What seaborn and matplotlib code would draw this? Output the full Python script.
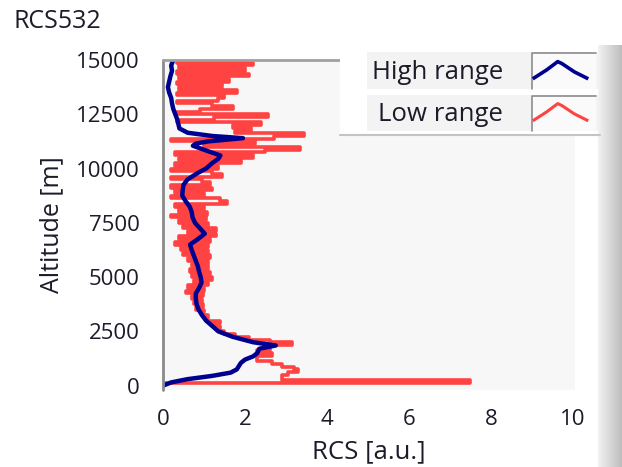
import numpy as np
import pandas as pd
import seaborn as sns
import matplotlib
matplotlib.use('Agg')
import matplotlib.pyplot as plt
from matplotlib.lines import Line2D
from matplotlib.patches import Rectangle
from matplotlib.path import Path
from matplotlib.colors import LinearSegmentedColormap

# low range channel, one value every 125 m from 0 to 15000 m (8 values per km)
low_rcs = [
    0.0, 7.5, 2.9, 2.9, 3.05, 3.3, 3.2, 2.9,
    2.65, 2.3, 2.3, 2.65, 2.3, 2.6, 2.5, 3.15,
    2.6, 2.1, 1.75, 1.5, 1.4, 1.4, 1.2, 1.4,
    1.05, 1.1, 0.95, 1.0, 0.8, 0.98, 0.75, 0.95,
    0.7, 0.98, 0.55, 1.0, 0.6, 1.1, 0.75, 1.2,
    0.7, 1.15, 0.65, 1.1, 0.7, 1.1, 0.6, 1.15,
    0.5, 1.1, 0.45, 1.1, 0.3, 1.15, 0.4, 1.3,
    0.6, 1.3, 0.5, 1.1, 0.4, 1.05, 0.2, 1.07,
    0.4, 1.0, 0.3, 1.55, 1.4, 0.2, 1.0, 0.3,
    1.2, 0.2, 1.15, 0.95, 0.2, 1.45, 1.2, 0.2,
    1.35, 0.3, 1.9, 0.4, 2.2, 0.3, 2.5, 3.35,
    1.0, 2.25, 0.2, 2.7, 3.45, 1.75, 2.15, 1.7,
    2.4, 0.35, 1.25, 2.55, 0.35, 0.9, 1.7, 1.2,
    0.35, 1.35, 1.5, 0.35, 1.8, 0.4, 1.45, 0.35,
    1.6, 0.4, 2.1, 0.35, 2.0, 0.4, 2.2, 0.35,
    2.05,
]
low_alt = np.arange(0, 15001, 125)

# high range channel
high_alt = [0, 150, 300, 450, 600, 750, 900, 1050, 1200, 1350,
            1500, 1700, 1850, 2000, 2250, 2500, 2750, 3000, 3250, 3500,
            3750, 4000, 4250, 4500, 4750, 5000, 5250, 5500, 5750, 6000,
            6250, 6500, 6750, 7000, 7250, 7500, 7750, 8000, 8250, 8500,
            8750, 9000, 9250, 9500, 9800, 10000, 10250, 10450, 10600, 10800,
            11050, 11150, 11250, 11400, 11500, 11650, 11850, 12250, 12500, 12750,
            13000, 13250, 13500, 13750, 14000, 14250, 14500, 14750, 15000]
high_rcs = [0.0, 0.2, 0.6, 1.2, 1.65, 1.8, 1.85, 1.9, 2.0, 2.2,
            2.3, 2.35, 2.75, 2.2, 1.7, 1.35, 1.2, 1.05, 0.95, 0.87,
            0.82, 0.8, 0.8, 0.88, 0.94, 0.92, 0.88, 0.85, 0.8, 0.75,
            0.7, 0.66, 0.85, 1.02, 0.9, 0.78, 0.72, 0.7, 0.65, 0.55,
            0.47, 0.48, 0.5, 0.6, 0.85, 1.05, 1.2, 1.35, 1.4, 1.1,
            0.73, 0.8, 1.1, 1.95, 1.2, 0.6, 0.4, 0.35, 0.3, 0.25,
            0.22, 0.2, 0.15, 0.12, 0.15, 0.18, 0.22, 0.2, 0.25]

x_ticks = [0, 2, 4, 6, 8, 10]
y_ticks = [0, 2500, 5000, 7500, 10000, 12500, 15000]

blue = '#000090'
red = '#ff4242'
txt = '#1e1a2a'

sns.set_theme(style='white')
plt.rcParams['font.family'] = ['Open Sans', 'DejaVu Sans']
plt.rcParams['text.color'] = txt

W, H = 622, 467
fig = plt.figure(figsize=(W / 100, H / 100), dpi=100)
fig.patch.set_facecolor('white')
ax = fig.add_axes([163 / W, 1 - 390 / H, 412 / W, 330 / H])
ax.set_facecolor('#f7f7f7')

sns.lineplot(x=low_rcs, y=low_alt, orient='y', sort=False, estimator=None,
             color=red, lw=2.6, drawstyle='steps-pre', ax=ax, legend=False)
sns.lineplot(x=high_rcs, y=high_alt, orient='y', sort=False, estimator=None,
             color=blue, lw=3.2, ax=ax, legend=False)

ax.set_xlim(0, 10.05)
ax.set_ylim(-200, 15000)
ax.set_xticks(x_ticks)
ax.set_yticks(y_ticks)

# detached scales like the original front panel
for s in ['right', 'bottom', 'left', 'top']:
    ax.spines[s].set_color('none')
ax.spines['left'].set_position(('outward', 6))
ax.spines['bottom'].set_position(('outward', 3))
ax.axvline(0, color='#8a8a8a', lw=2, clip_on=False, zorder=5)
ax.axhline(15000, color='#a0a0a0', lw=2, clip_on=False, zorder=5)

ax.tick_params(axis='both', direction='out', length=8, width=2, color='#333333',
               labelsize=16, labelcolor=txt, pad=3)
ax.tick_params(axis='x', length=7, pad=4)
ax.set_xlabel('RCS [a.u.]', fontsize=18.5, color=txt, labelpad=6)
ax.set_ylabel('Altitude [m]', fontsize=18, color=txt, labelpad=8)

fig.text(14 / W, 1 - 9 / H, 'RCS532', ha='left', va='top', fontsize=18, color=txt)

# legend panel
def px_rect(x0, y0, x1, y1, **kw):
    return Rectangle((x0 / W, 1 - y1 / H), (x1 - x0) / W, (y1 - y0) / H,
                     transform=fig.transFigure, **kw)

fig.add_artist(px_rect(340, 46, 598, 135, fc='white', ec='none', zorder=3))
for r0, r1 in [(52, 89), (95, 131)]:
    fig.add_artist(px_rect(367, r0, 598, r1, fc='#f3f3f3', ec='none', zorder=3))
    fig.add_artist(px_rect(532, r0 + 1, 596, r1, fc='#fafafa', ec='none', zorder=3))
    fig.add_artist(Line2D([532 / W, 532 / W, 596 / W], [1 - r1 / H, 1 - (r0 + 1) / H, 1 - (r0 + 1) / H],
                          color='#8c8c8c', lw=1.2, transform=fig.transFigure, zorder=4))
fig.add_artist(Line2D([340 / W, 600 / W], [1 - 135 / H] * 2,
                      color='#c4c4c4', lw=1.5, transform=fig.transFigure, zorder=4))

chev = Path([(-1, -0.3), (-0.5, 0.02), (-0.1, 0.32), (0.05, 0.25), (0.5, -0.05), (1, -0.3)])
handles = [
    Line2D([], [], color=blue, marker=chev, markersize=40, markerfacecolor='none',
           markeredgewidth=2.6, linestyle='none'),
    Line2D([], [], color=red, marker=chev, markersize=40, markerfacecolor='none',
           markeredgewidth=2.2, linestyle='none'),
]
leg = fig.legend(handles, ['High range', 'Low range'], loc='upper left',
                 bbox_to_anchor=(354 / W, 1 - 42 / H), bbox_transform=fig.transFigure,
                 frameon=False, markerfirst=False, handlelength=2.4, handletextpad=1.0,
                 fontsize=18.5, labelspacing=0.68, borderpad=0.2, numpoints=1)
leg.set_zorder(5)
for t in leg.get_texts():
    t.set_color(txt)

# scrollbar-like strip at the right edge
sax = fig.add_axes([598 / W, 0, 24 / W, 1 - 45 / H])
grad = LinearSegmentedColormap.from_list('g', ['#f2f2f2', '#d8d8d8', '#bdbdbd'])
sax.imshow(np.linspace(0, 1, 50)[None, :], aspect='auto', cmap=grad)
sax.axis('off')

fig.savefig('out.png', dpi=100)
